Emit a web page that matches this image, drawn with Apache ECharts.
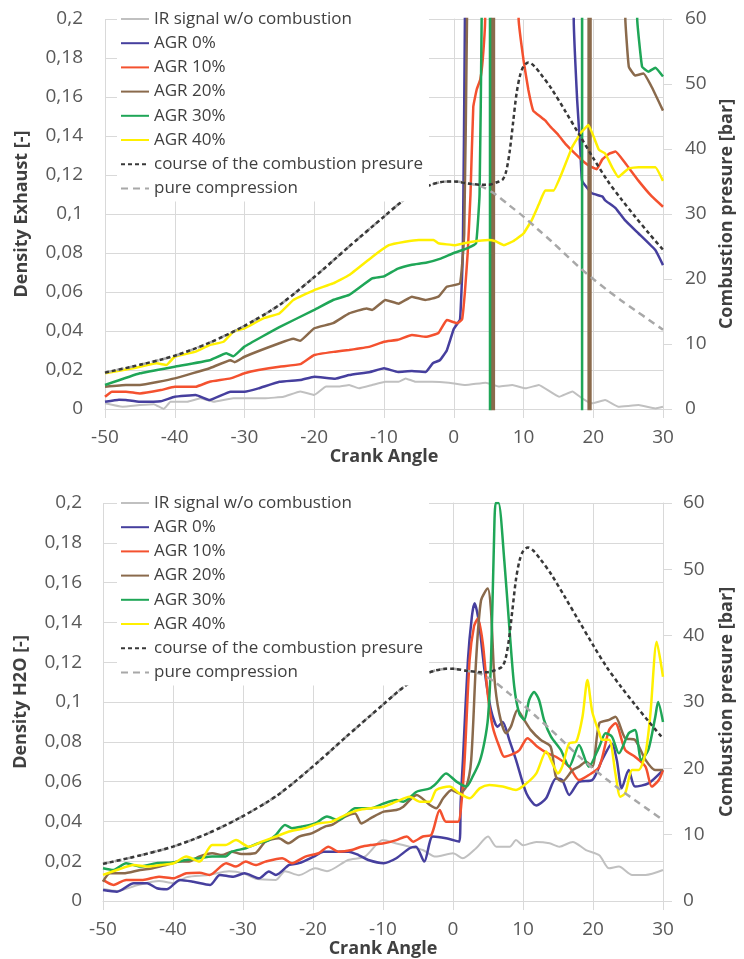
<!DOCTYPE html>
<html><head><meta charset="utf-8">
<script src="https://cdn.jsdelivr.net/npm/echarts@6/dist/echarts.min.js"></script>
<style>html,body{margin:0;padding:0;background:#fff}#c{width:744px;height:959px}</style>
</head><body><div id="c"></div>
<script>
// ---------- shared tick settings ----------
const xTicks = { min: -50, max: 30, step: 10 };
const densityTicks = { min: 0, max: 0.2, step: 0.02 };
const pressureTicks = { min: 0, max: 60, step: 10 };
const seriesNames = ['IR signal w/o combustion','AGR 0%','AGR 10%','AGR 20%','AGR 30%','AGR 40%','course of the combustion presure','pure compression'];

// ---------- pressure curves [crank angle, bar] (same in both panels) ----------
const combustionPressure = [[-50,5.6],[-45,6.8],[-40,8.2],[-35,10.2],[-30,12.8],[-25,16],[-20,20.3],[-15,25],[-10,29.6],[-7,32.3],[-5,33.6],[-3,34.6],[-1,35],[0,35],[2,34.7],[4,34.5],[5,34.5],[6,34.8],[7,35.3],[7.5,36.5],[8,39.5],[8.5,44],[9,48.5],[9.5,51.3],[10,52.7],[10.7,53.3],[11.5,52.8],[12.5,51.5],[14,49.3],[16,45.8],[18,42.2],[20,38.6],[22,35.2],[24,32.3],[26,29.6],[28,27],[30,24.5]];
const pureCompression = [[-50,5.6],[-45,6.8],[-40,8.2],[-35,10.2],[-30,12.8],[-25,16],[-20,20.3],[-15,25],[-10,29.6],[-7,32.3],[-5,33.6],[-3,34.6],[-1,35],[0,35],[2,34.7],[4,34.2],[6,33],[8,31.3],[10,29.6],[12,27.7],[14,25.8],[16,23.8],[18,21.8],[20,20],[22,18.3],[24,16.7],[26,15.2],[28,13.7],[30,12.2]];

// ---------- top panel: Density Exhaust ----------
const exhIR = [[-50,0.003],[-47.5,0.0012],[-45,0.002],[-43,0.0025],[-41.6,0],[-40.6,0.0037],[-38.2,0.0037],[-36.3,0.0055],[-34.4,0.0037],[-31.6,0.0055],[-29,0.0055],[-27,0.0055],[-24.4,0.0063],[-22,0.009],[-20,0.0072],[-18.3,0.0115],[-16.4,0.0115],[-15,0.0123],[-13.6,0.0106],[-11.7,0.0123],[-9.8,0.014],[-7.9,0.014],[-6.9,0.0157],[-5.5,0.014],[-3.1,0.014],[-0.7,0.0135],[1.7,0.0123],[4.6,0.0135],[6.5,0.0115],[8.4,0.0123],[10.3,0.0106],[12.2,0.0123],[15.1,0.0063],[17,0.009],[18.4,0.0055],[19.8,0.0029],[21.7,0.0046],[23.6,0.0012],[26.5,0.002],[28.9,0.0003],[30,0.0012]];
const exhAGR0 = [[-50,0.0037],[-48,0.0048],[-47,0.0046],[-45,0.0037],[-42,0.004],[-40,0.0063],[-37,0.0072],[-35,0.0046],[-32,0.0089],[-30,0.0089],[-28,0.0106],[-25,0.014],[-22,0.0149],[-20,0.0166],[-17,0.0155],[-15,0.0174],[-12,0.019],[-10,0.0209],[-8,0.019],[-6,0.0195],[-4,0.019],[-3,0.0235],[-2,0.025],[-1,0.03],[0,0.041],[0.9,0.046],[1.3,0.08],[1.6,0.2],[1.7,0.5],[17.1,0.5],[17.2,0.2],[17.7,0.158],[18.15,0.133],[18.4,0.117],[19.8,0.1106],[21.3,0.109],[21.7,0.107],[23.2,0.103],[24.5,0.097],[26.5,0.09],[28.9,0.0815],[30,0.0738]];
const exhAGR10 = [[-50,0.0063],[-49,0.0089],[-47,0.0089],[-45,0.008],[-42,0.0097],[-40,0.0114],[-37,0.0114],[-35,0.014],[-32,0.0157],[-30,0.0183],[-28,0.02],[-25,0.0217],[-22,0.023],[-20,0.0277],[-17,0.0294],[-15,0.0303],[-12,0.032],[-10,0.0345],[-8,0.0355],[-6,0.038],[-4,0.037],[-2.2,0.039],[-1,0.0456],[0.5,0.044],[1.2,0.046],[1.6,0.06],[2,0.08],[2.4,0.11],[2.8,0.155],[3.3,0.164],[3.8,0.169],[4.15,0.179],[4.5,0.2],[4.7,0.5],[9.1,0.5],[9.3,0.2],[10,0.179],[10.7,0.1636],[11.4,0.153],[12.4,0.15],[13.1,0.148],[13.8,0.145],[15,0.1405],[16,0.136],[17.4,0.131],[18.9,0.126],[19.8,0.124],[20.5,0.123],[21.3,0.128],[22.3,0.131],[23.2,0.132],[24.6,0.126],[26.5,0.117],[28.4,0.109],[30,0.1037]];
const exhAGR20 = [[-50,0.0114],[-47,0.0123],[-45,0.0123],[-40,0.0157],[-35,0.0209],[-32,0.025],[-31.4,0.024],[-30,0.0268],[-25,0.0337],[-23,0.036],[-22,0.035],[-20,0.0414],[-17.3,0.044],[-15,0.049],[-12.5,0.0516],[-11.7,0.0508],[-9.8,0.0559],[-7.9,0.054],[-6,0.0576],[-4.1,0.0559],[-2.2,0.0576],[-1,0.0627],[0.9,0.0644],[1.5,0.09],[1.9,0.2],[2,0.5],[5.45,0.5],[5.5,-0.01],[5.75,-0.01],[5.8,0.5],[19.3,0.5],[19.35,-0.01],[19.6,-0.01],[19.65,0.5],[24.4,0.5],[24.6,0.2],[25.1,0.1755],[26,0.171],[27.2,0.172],[28.4,0.165],[30,0.153]];
const exhAGR30 = [[-50,0.0123],[-45,0.0183],[-40,0.0217],[-35,0.025],[-32.6,0.0286],[-31.6,0.027],[-30,0.032],[-25,0.042],[-20,0.0508],[-17.3,0.0559],[-15,0.0585],[-11.7,0.067],[-10,0.068],[-8,0.072],[-6,0.074],[-4,0.075],[-2,0.077],[0,0.08],[2,0.0825],[3.2,0.085],[3.7,0.11],[4,0.2],[4.1,0.5],[5.15,0.5],[5.2,-0.01],[5.25,0.5],[18.35,0.5],[18.4,-0.01],[18.45,0.5],[26.2,0.5],[26.3,0.2],[27,0.1755],[27.9,0.173],[28.9,0.175],[30,0.1705]];
const exhAGR40 = [[-50,0.0183],[-46,0.0209],[-42.6,0.0234],[-41.2,0.0226],[-40,0.0268],[-37,0.0294],[-35,0.0328],[-33,0.0345],[-31.6,0.0397],[-30,0.0414],[-27.3,0.0465],[-25,0.049],[-23,0.0559],[-20,0.061],[-17.3,0.0644],[-15,0.0687],[-11.7,0.078],[-9.3,0.084],[-7,0.0858],[-5,0.0867],[-2.9,0.0867],[-2.2,0.085],[0.2,0.084],[2.6,0.0858],[5,0.0867],[6,0.086],[7.2,0.084],[8.5,0.086],[10,0.09],[11.2,0.097],[12.2,0.105],[13.1,0.112],[14.3,0.112],[15.5,0.121],[17,0.1345],[18.3,0.142],[19.3,0.1456],[20.8,0.133],[21.7,0.131],[22.7,0.124],[23.6,0.119],[25.1,0.1234],[26.5,0.124],[28.9,0.124],[30,0.117]];

// ---------- bottom panel: Density H2O ----------
const h2oIR = [[-50,0.006],[-48,0.005],[-45,0.008],[-42,0.01],[-40,0.009],[-38,0.012],[-35,0.013],[-32,0.015],[-30,0.014],[-28,0.011],[-25.3,0.0106],[-24,0.015],[-22,0.013],[-19.7,0.0164],[-18,0.015],[-15,0.0206],[-12.6,0.0223],[-10,0.0306],[-8.1,0.0289],[-6.2,0.0273],[-4.3,0.0256],[-2.5,0.0223],[0,0.024],[1.4,0.0215],[3.3,0.0265],[5,0.0324],[6.2,0.0273],[8.1,0.0273],[9,0.0306],[10,0.028],[11.9,0.0297],[13.8,0.029],[15.2,0.0273],[17.1,0.0297],[19,0.0256],[20.9,0.023],[22.3,0.0164],[23.7,0.0173],[25.6,0.0131],[27.5,0.0131],[30,0.0156]];
const h2oAGR0 = [[-50,0.0055],[-48,0.0047],[-45.6,0.0089],[-43.7,0.0089],[-42.3,0.0064],[-40.9,0.0059],[-39,0.0106],[-37.1,0.0097],[-34.7,0.0081],[-33.3,0.0131],[-31.4,0.0122],[-29.8,0.0139],[-27.7,0.0114],[-26.3,0.0148],[-25.3,0.0131],[-23.4,0.0181],[-22,0.019],[-19.9,0.0223],[-18.5,0.0248],[-14.9,0.0248],[-13.5,0.0231],[-12.1,0.0206],[-9.9,0.019],[-8.1,0.0215],[-6.2,0.0265],[-5.3,0.0273],[-4.1,0.0198],[-2.9,0.0324],[-1,0.0315],[0.9,0.0298],[1.1,0.05],[1.42,0.0709],[2.13,0.121],[2.7,0.143],[3.08,0.1496],[3.4,0.146],[3.79,0.138],[4.5,0.116],[5.43,0.096],[6.38,0.0876],[7.09,0.09],[8.04,0.081],[9,0.0709],[10.5,0.054],[11.9,0.048],[13.3,0.0516],[14.7,0.0616],[15.6,0.0608],[16.6,0.0533],[18,0.0599],[19.9,0.0608],[21.3,0.0709],[22.7,0.0792],[23.4,0.0709],[24.1,0.0566],[25.1,0.0658],[26,0.0575],[27.9,0.0591],[30,0.0658]];
const h2oAGR10 = [[-50,0.0106],[-48.5,0.0081],[-46.7,0.0106],[-44.3,0.0106],[-42,0.0122],[-40,0.0114],[-38.1,0.0139],[-36.2,0.0142],[-34.8,0.0131],[-32.4,0.019],[-31,0.0173],[-29.6,0.0198],[-28.2,0.0181],[-26.8,0.0198],[-24.4,0.0215],[-23,0.019],[-21.1,0.0223],[-19.2,0.024],[-17.8,0.0273],[-16.4,0.0248],[-14.5,0.0256],[-13.1,0.0273],[-11.8,0.0281],[-9.9,0.029],[-8.1,0.0306],[-6.6,0.0324],[-5.7,0.0298],[-4.3,0.0324],[-3.1,0.0332],[-1.9,0.0457],[-1,0.0398],[0.7,0.0398],[1.2,0.049],[1.66,0.0709],[2.37,0.121],[3,0.138],[3.55,0.142],[4.26,0.1295],[4.96,0.104],[5.67,0.0876],[6.62,0.0775],[7.33,0.0725],[8.75,0.0742],[9.5,0.0759],[10.64,0.0818],[12.06,0.0775],[13.5,0.0742],[14.7,0.0725],[16.6,0.0675],[18,0.0608],[19.4,0.0633],[20.9,0.0675],[22.3,0.0859],[23.2,0.0893],[24.6,0.0759],[26,0.0725],[27.5,0.0675],[28.4,0.0575],[29.4,0.0608],[30,0.0658]];
const h2oAGR20 = [[-50,0.0097],[-49,0.0139],[-47.1,0.0139],[-44.7,0.0156],[-42.9,0.0165],[-41,0.0181],[-39.1,0.0198],[-37.7,0.0198],[-36.3,0.0223],[-34.4,0.024],[-33,0.0231],[-31.6,0.0248],[-30.2,0.0236],[-28.3,0.024],[-26.8,0.0298],[-24.9,0.0315],[-23.5,0.029],[-22,0.0324],[-20.2,0.034],[-18.3,0.0374],[-17.3,0.0382],[-15.4,0.0424],[-14,0.044],[-13.1,0.039],[-11.8,0.0415],[-9.9,0.0449],[-8.1,0.0457],[-7.1,0.0474],[-5.2,0.0533],[-3.3,0.0482],[-2.4,0.0466],[-1.4,0.0516],[-0.2,0.0558],[0.9,0.0541],[1.9,0.0575],[2.6,0.0709],[3.3,0.121],[4,0.151],[4.96,0.157],[5.43,0.146],[5.9,0.1127],[6.6,0.0943],[7.56,0.0843],[8.27,0.0876],[9.2,0.096],[10.17,0.091],[11.1,0.086],[12.5,0.081],[13.95,0.0775],[14.7,0.0625],[15.6,0.06],[17.1,0.0658],[18,0.0675],[19,0.07],[19.9,0.0675],[20.9,0.0893],[22.3,0.091],[23.2,0.0926],[24.6,0.0818],[26,0.081],[27.5,0.0709],[28.9,0.0658],[30,0.0658]];
const h2oAGR30 = [[-50,0.0165],[-48.5,0.0156],[-46.7,0.019],[-44.7,0.0173],[-42.4,0.019],[-40,0.0193],[-38.1,0.0206],[-36.3,0.0215],[-34.4,0.0223],[-32.5,0.0223],[-31.6,0.0248],[-29.6,0.0265],[-27.8,0.029],[-26.3,0.0306],[-25.3,0.0332],[-24,0.0382],[-23,0.0366],[-21.6,0.0374],[-19.7,0.039],[-18,0.0424],[-16.4,0.0407],[-15,0.044],[-14,0.0466],[-11.8,0.0466],[-9.9,0.049],[-8.1,0.0507],[-7.1,0.0499],[-5.2,0.0549],[-3.3,0.0566],[-2.4,0.0591],[-1,0.0641],[0.5,0.06],[1.9,0.0575],[2.8,0.0625],[3.8,0.07],[4.5,0.08],[5,0.092],[5.43,0.121],[5.85,0.18],[6.1,0.2],[6.5,0.2],[7.33,0.171],[8.04,0.138],[8.75,0.1077],[9.46,0.0943],[10.17,0.091],[10.88,0.101],[11.58,0.105],[12.29,0.101],[13,0.091],[14,0.0826],[15.4,0.0759],[16.6,0.0675],[18,0.0784],[19.4,0.0675],[20.9,0.0776],[21.8,0.0843],[22.7,0.0826],[23.7,0.0742],[25.1,0.0843],[26,0.0859],[26.9,0.0709],[27.9,0.0759],[28.9,0.0926],[29.3,0.1],[30,0.09]];
const h2oAGR40 = [[-50,0.0131],[-48,0.0156],[-45.6,0.0181],[-43.7,0.0173],[-41.8,0.0181],[-39.9,0.019],[-38.1,0.0223],[-36.2,0.0198],[-34.4,0.0281],[-32.5,0.0281],[-31,0.0306],[-29.2,0.0273],[-27.3,0.0298],[-25.3,0.0324],[-23.4,0.0349],[-21.1,0.0366],[-19.2,0.039],[-17.3,0.0399],[-15.4,0.0432],[-13.5,0.0457],[-11.8,0.0466],[-9.9,0.0474],[-8.1,0.0499],[-6.2,0.0524],[-4.7,0.0499],[-3.3,0.0499],[-2.4,0.0558],[-0.5,0.0575],[0.9,0.0541],[2.4,0.0516],[3.8,0.0566],[5.2,0.0583],[7.1,0.0575],[9,0.0558],[10.5,0.0591],[11.9,0.0641],[13.3,0.0751],[14.2,0.0692],[15,0.0641],[15.6,0.0675],[16.6,0.0792],[17.6,0.08],[18.5,0.0926],[19.2,0.111],[19.9,0.095],[20.9,0.0843],[21.3,0.081],[22.3,0.081],[23.2,0.0641],[23.9,0.0524],[24.6,0.0541],[25.6,0.0658],[26.5,0.0658],[27.5,0.0742],[28.2,0.094],[29.1,0.1303],[30,0.1127]];

const topSeriesData = [exhIR, exhAGR0, exhAGR10, exhAGR20, exhAGR30, exhAGR40];
const bottomSeriesData = [h2oIR, h2oAGR0, h2oAGR10, h2oAGR20, h2oAGR30, h2oAGR40];

// ---------- styling ----------
const FONT = 'Open Sans';
const colors = ['#c0c0c0','#463f9e','#f4512f','#8a6a4c','#1fa657','#fff000'];
const widths = [2, 2.5, 2.5, 2.5, 2.5, 2.5];
const gridColor = '#d9d9d9';
const labelColor = '#595959';
const nameColor = '#404040';

const fmtDensity = v => String(Math.round(v * 100) / 100).replace('.', ',');

function xAxisFor(gridIndex, nameGap) {
  return {
    type: 'value', gridIndex, min: xTicks.min, max: xTicks.max, interval: xTicks.step,
    name: 'Crank Angle', nameLocation: 'middle', nameGap,
    nameTextStyle: { fontFamily: FONT, fontWeight: 'bold', fontSize: 18, color: nameColor },
    axisLine: { onZero: false, lineStyle: { color: gridColor, width: 1 } },
    axisTick: { show: true, length: 9, lineStyle: { color: gridColor } },
    axisLabel: { fontFamily: FONT, fontSize: 19, color: labelColor, margin: 19 },
    splitLine: { show: true, lineStyle: { color: gridColor, width: 1 } }
  };
}
function yLeft(gridIndex, name, nameGap, margin) {
  return {
    type: 'value', gridIndex, position: 'left', min: densityTicks.min, max: densityTicks.max, interval: densityTicks.step,
    name, nameLocation: 'middle', nameGap,
    nameTextStyle: { fontFamily: FONT, fontWeight: 'bold', fontSize: 18, color: nameColor },
    axisLine: { show: true, lineStyle: { color: gridColor, width: 1 } },
    axisTick: { show: true, length: 9, lineStyle: { color: gridColor } },
    axisLabel: { fontFamily: FONT, fontSize: 19, color: labelColor, margin, formatter: fmtDensity },
    splitLine: { show: true, lineStyle: { color: gridColor, width: 1 } }
  };
}
function yRight(gridIndex, nameGap, margin) {
  return {
    type: 'value', gridIndex, position: 'right', min: pressureTicks.min, max: pressureTicks.max, interval: pressureTicks.step,
    name: 'Combustion presure [bar]', nameLocation: 'middle', nameGap,
    nameTextStyle: { fontFamily: FONT, fontWeight: 'bold', fontSize: 18, color: nameColor },
    axisLine: { show: true, lineStyle: { color: gridColor, width: 1 } },
    axisTick: { show: true, length: 9, lineStyle: { color: gridColor } },
    axisLabel: { fontFamily: FONT, fontSize: 19, color: labelColor, margin },
    splitLine: { show: false }
  };
}

function panelSeries(dataList, xIdx, yLeftIdx, yRightIdx) {
  const out = dataList.map((d, i) => ({
    name: seriesNames[i], type: 'line', xAxisIndex: xIdx, yAxisIndex: yLeftIdx,
    data: d, symbol: 'none', smooth: xIdx === 1 ? 0.25 : 0.1, clip: true,
    lineStyle: { color: colors[i], width: widths[i] }, itemStyle: { color: colors[i] },
    z: 2 + i * 0.01
  }));
  out.push({
    name: seriesNames[7], type: 'line', xAxisIndex: xIdx, yAxisIndex: yRightIdx,
    data: pureCompression, symbol: 'none', smooth: 0.3,
    lineStyle: { color: '#a8a8a8', width: 2.5, type: [7, 5] }, itemStyle: { color: '#a8a8a8' }, z: 3
  });
  out.push({
    name: seriesNames[6], type: 'line', xAxisIndex: xIdx, yAxisIndex: yRightIdx,
    data: combustionPressure, symbol: 'none', smooth: 0.3,
    lineStyle: { color: '#383838', width: 2.5, type: [4, 3] }, itemStyle: { color: '#383838' }, z: 3.1
  });
  return out;
}

function legendAt(top) {
  return {
    orient: 'vertical', left: 117, top, data: seriesNames,
    itemWidth: 28, itemHeight: 12, itemGap: 4.2, padding: [3, 6, 3, 3],
    backgroundColor: '#ffffff', selectedMode: false,
    itemStyle: { opacity: 0, borderWidth: 0 },
    textStyle: { fontFamily: FONT, fontSize: 17, color: nameColor, lineHeight: 20 }
  };
}

const chart = echarts.init(document.getElementById('c'), null, { renderer: 'canvas' });
chart.setOption({
  animation: false,
  backgroundColor: '#ffffff',
  textStyle: { fontFamily: FONT },
  grid: [
    { left: 105, top: 19, width: 558, height: 390, containLabel: false },
    { left: 103, top: 503, width: 564, height: 398, containLabel: false }
  ],
  legend: [legendAt(6), legendAt(490)],
  xAxis: [xAxisFor(0, 34), xAxisFor(1, 37)],
  yAxis: [
    yLeft(0, 'Density Exhaust [-]', 74, 22),
    yRight(0, 54, 22),
    yLeft(1, 'Density H2O [-]', 73, 21),
    yRight(1, 55, 20)
  ],
  series: [].concat(panelSeries(topSeriesData, 0, 0, 1), panelSeries(bottomSeriesData, 1, 2, 3))
});
</script>
</body></html>
